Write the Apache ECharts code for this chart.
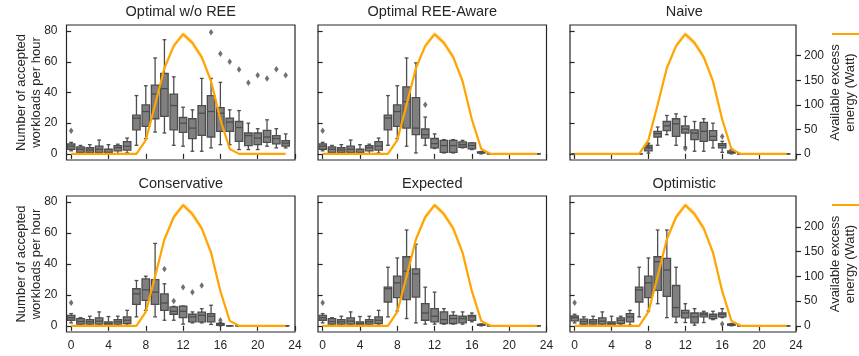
<!DOCTYPE html>
<html><head><meta charset="utf-8">
<script src="https://cdn.jsdelivr.net/npm/echarts@6/dist/echarts.min.js"></script>
<style>html,body{margin:0;padding:0;background:#fff}#c{width:859px;height:356px}</style>
</head><body><div id="c"></div><script>
const hours = [0,1,2,3,4,5,6,7,8,9,10,11,12,13,14,15,16,17,18,19,20,21,22,23];
const xTicks = [0,4,8,12,16,20,24];
const leftTicks = [0,20,40,60,80];
const rightTicks = [0,50,100,150,200];
const titles = ['Optimal w/o REE','Optimal REE-Aware','Naive','Conservative','Expected','Optimistic'];

// available excess energy (W), mean and confidence band
const solar   = [0,0,0,0,0,0,0,0,28,100,175,220,244,226,197,148,70,10,0,0,0,0,0,0];
const solarLo = [0,0,0,0,0,0,0,0,26,96,170,214,238,219,190,141,65,8,0,0,0,0,0,0];
const solarHi = [0,0,0,0,0,0,0,0,30,104,180,226,250,233,204,155,75,12,0,0,0,0,0,0];

// box stats per hour: [whiskerLow, Q1, median, Q3, whiskerHigh]
const optimalWoRee = [
 [2,3,5,6.5,7.5],[0.5,1,3,4.5,5.5],[0,1,2.5,4,6],[0,1,3,5,9],[0,0.5,1,3,6],[0,2,4,5.4,6.3],
 [0.6,2.4,5,8,10.3],[5.6,15.7,23.3,25.2,38],[9.9,17.9,27.6,31.9,44.4],[14.2,22.9,39,44.8,62.5],
 [13.6,24.4,42.5,52.4,74.4],[5.6,15.7,31.5,39,50.2],[5,14,20,23.7,30.4],[1.7,9.9,16.8,22.9,28.7],
 [1.7,12,26.5,31.5,49.2],[3.9,11,27.6,38,49.2],[6,14.7,26.5,30.2,46.6],[6,14.7,20.7,23.3,28.7],
 [2.8,8.2,17.2,21.1,28.2],[2.8,5.4,11.9,13.6,20],[2.8,6,10.3,13.6,16.4],[5,7.5,11,15.3,22.2],
 [3.9,6.5,10,11.9,16.4],[3.9,5,7,8.6,13]];
const optimalWoReeOut = [[0,15],[15,79.3],[16,65.3],[17,60],[18,55],[19,46.4],[20,51.3],[21,49.2],[22,55.2],[23,51.3]];

const optimalReeAware = [
 [2,3,5,6.5,7.5],[0.5,1,3,4.5,5.5],[0,1,2.5,4,6],[0,1,3,5,9],[0,0.5,1,3,6],[0,2,4,5.4,6.3],
 [0.6,2.4,5,8,10.3],[5.6,15.7,23.3,25.2,38],[9.9,17.9,27.6,31.9,44.4],[5,16.8,34,43.7,62.5],
 [0.6,12.5,16.8,36.7,59.3],[5.6,10.3,12.5,16.2,24],[3.5,3.9,6.7,10,13],[0.6,1,5.4,8.8,9.3],
 [0.6,1,5.4,8.8,9.3],[3.9,4.3,6,7.8,8.8],[2.8,3.2,5.4,7.1,7.1],[0,0.5,1,1.3,1.5],
 [0,0,0,0,0],[0,0,0,0,0],[0,0,0,0,0],[0,0,0,0,0],[0,0,0,0,0],[0,0,0,0,0]];
const optimalReeAwareOut = [[0,15],[11,32]];

const naive = [
 [0,0,0,0,0],[0,0,0,0,0],[0,0,0,0,0],[0,0,0,0,0],[0,0,0,0,0],[0,0,0,0,0],[0,0,0,0,0],[0,0,0,0,0],
 [0.5,2,4,5.5,7],[5.6,11,13.2,14.7,17.5],[12.5,15.1,18.3,21.1,25],[5.6,11.4,19.6,22.9,26.1],
 [4.5,13.6,16.2,18.3,24.4],[1.7,9.3,13.6,15.7,21.1],[1.7,8.2,14.7,20.5,22.9],[3.9,8.8,11.4,15.1,20],
 [1,3.9,5.6,6.7,8.2],[0,0.5,1,2,3],
 [0,0,0,0,0],[0,0,0,0,0],[0,0,0,0,0],[0,0,0,0,0],[0,0,0,0,0],[0,0,0,0,0]];
const naiveOut = [[8,5],[12,3.5],[16,11.4]];

const conservative = [
 [1.9,3.6,5.3,6.8,7.9],[0.9,1.1,2.8,4.7,5.3],[0.5,1.1,2.6,4,6.2],[0.5,1.1,3,5.1,9],[0.3,0.5,1.5,2.6,6],
 [0.5,1.1,2.6,4,6.2],[0.4,1.5,3.6,5.8,10],[5.8,13.9,20.7,24,29.3],[10,16.5,23.3,30.4,32.1],
 [5.8,13.9,21.8,29.9,53.3],[3.6,10,14.8,20.7,27.2],[3.6,7.5,9.4,12.2,12.6],[1.1,5.3,9.4,12.8,12.8],
 [1.9,2.6,5.8,7.5,9],[1.9,2.6,6.8,8.8,11.1],[0.9,2.6,6.2,7.9,13.3],[0,0.3,1,1.5,2],
 [0,0,0,0,0],[0,0,0,0,0],[0,0,0,0,0],[0,0,0,0,0],[0,0,0,0,0],[0,0,0,0,0],[0,0,0,0,0]];
const conservativeOut = [[0,15],[10,36.8],[11,16],[12,25],[13,21.8],[14,26.1],[16,3.6]];

const expected = [
 [1.9,3.6,5.3,6.8,7.9],[0.9,1.1,2.8,4.7,5.3],[0.5,1.1,2.6,4,6.2],[0.5,1.1,3,5.1,9],[0.3,0.5,1.5,2.6,6],
 [0.5,1.1,2.6,4,6.2],[0.4,1.5,3.6,5.8,10],[5.8,15.4,24,25,37.9],[9.6,18.2,27.8,32.1,43.9],
 [4.7,16.9,35.3,44.7,62],[1.9,18.6,33.6,36.8,52.8],[1.1,3.6,8.3,14.3,25],[1.1,2.6,6.2,11.1,21.8],
 [1.1,1.5,4,9,11.1],[1.1,1.5,4.7,6.8,9],[1.1,1.9,4.7,6.2,9],[2.6,3.6,5.8,6.8,8.3],[0,0.3,0.8,1,1.2],
 [0,0,0,0,0],[0,0,0,0,0],[0,0,0,0,0],[0,0,0,0,0],[0,0,0,0,0],[0,0,0,0,0]];
const expectedOut = [[0,15]];

const optimistic = [
 [1.9,3.2,5.3,6.4,7.5],[0.9,1.1,2.8,4.3,5.8],[0.5,1.1,2.6,4,6.2],[0.5,1.1,3,5.1,9],[0.3,0.5,1.5,2.6,6.2],
 [0.5,1.5,3.6,5.1,6.2],[0.4,2.6,5.8,7.9,10],[5.8,15.4,23.3,25,37.9],[9.6,18.2,27.8,32.1,43.9],
 [14.3,22.9,41.5,44.7,62],[5.3,19,36.1,43.6,62],[2.1,5.8,11.8,26.1,37.9],[2.1,5.1,8.3,10,14.3],
 [0.4,1.9,5.8,8.3,11.1],[2.1,5.8,7.3,8.3,9.4],[4,4.7,6.2,7.5,9.4],[5.3,5.8,7.5,8.3,11.1],[0,0.3,0.8,1.2,1.5],
 [0,0,0,0,0],[0,0,0,0,0],[0,0,0,0,0],[0,0,0,0,0],[0,0,0,0,0],[0,0,0,0,0]];
const optimisticOut = [[0,15],[16,1.1]];

const panels = [
  [optimalWoRee, optimalWoReeOut], [optimalReeAware, optimalReeAwareOut], [naive, naiveOut],
  [conservative, conservativeOut], [expected, expectedOut], [optimistic, optimisticOut]
];

const FONT = 'Liberation Sans, Arial, sans-serif';
const TXT = '#262626';
const EDGE = '#4d4d4d';
const lefts = [66.5, 318, 570];
const W = 228.5;
const tops = [25, 196];
const Hs = [135, 136];

function renderBox(params, api) {
  const x = api.value(0);
  const c = [1,2,3,4,5].map(i => api.coord([x, api.value(i)]));
  const cx = c[0][0];
  const w = api.size([0.8, 0])[0];
  const cap = w * 0.5;
  const st = {stroke: EDGE, lineWidth: 1.3};
  return {type: 'group', children: [
    {type:'line', shape:{x1:cx,y1:c[0][1],x2:cx,y2:c[1][1]}, style:st},
    {type:'line', shape:{x1:cx,y1:c[3][1],x2:cx,y2:c[4][1]}, style:st},
    {type:'line', shape:{x1:cx-cap/2,y1:c[0][1],x2:cx+cap/2,y2:c[0][1]}, style:st},
    {type:'line', shape:{x1:cx-cap/2,y1:c[4][1],x2:cx+cap/2,y2:c[4][1]}, style:st},
    {type:'rect', shape:{x:cx-w/2,y:c[3][1],width:w,height:c[1][1]-c[3][1]}, style:{fill:'#808080', stroke:EDGE, lineWidth:1.3}},
    {type:'line', shape:{x1:cx-w/2,y1:c[2][1],x2:cx+w/2,y2:c[2][1]}, style:st}
  ]};
}
function renderBand(params, api) {
  const pts = [];
  hours.forEach((h,i) => pts.push(api.coord([h, solarHi[i]])));
  for (let i = hours.length-1; i >= 0; i--) pts.push(api.coord([hours[i], solarLo[i]]));
  return {type:'polygon', shape:{points:pts}, style:{fill:'rgba(255,165,0,0.22)'}};
}

const grid = [], xAxis = [], yAxis = [], series = [], graphic = [];
for (let p = 0; p < 6; p++) {
  const row = Math.floor(p/3), col = p % 3;
  grid.push({left: lefts[col], top: tops[row], width: W, height: Hs[row], show: true,
    borderColor: TXT, borderWidth: 1.2, backgroundColor: 'transparent'});
  xAxis.push({type:'value', gridIndex:p, min:-0.5, max:24,
    axisLine:{show:false}, splitLine:{show:false},
    axisTick:{show:true, length:5, customValues:xTicks, lineStyle:{color:TXT, width:1.2}},
    axisLabel:{show: row===1, customValues:xTicks, color:TXT, fontSize:12, fontFamily:FONT, margin:8}});
  yAxis.push({type:'value', gridIndex:p, position:'left', min:-4, max:84,
    axisLine:{show:false}, splitLine:{show:false},
    axisTick:{show:true, length:5, customValues:leftTicks, lineStyle:{color:TXT, width:1.2}},
    axisLabel:{show: col===0, customValues:leftTicks, color:TXT, fontSize:12, fontFamily:FONT, margin:9},
    name: col===0 ? 'Number of accepted\nworkloads per hour' : '',
    nameLocation:'middle', nameRotate:90, nameGap:23, nameMoveOverlap:false,
    nameTextStyle:{color:TXT, fontSize:13, fontFamily:FONT, lineHeight:15}});
  yAxis.push({type:'value', gridIndex:p, position:'right', min:-12.5, max:262.5, show: col===2,
    axisLine:{show:false}, splitLine:{show:false},
    axisTick:{show:true, length:5, customValues:rightTicks, lineStyle:{color:TXT, width:1.2}},
    axisLabel:{show:true, customValues:rightTicks, color:TXT, fontSize:12, fontFamily:FONT, margin:8},
    name: col===2 ? 'Available excess\nenergy (Watt)' : '',
    nameLocation:'middle', nameRotate:90, nameGap:32, nameMoveOverlap:false,
    nameTextStyle:{color:TXT, fontSize:13, fontFamily:FONT, lineHeight:15}});
  const [box, out] = panels[p];
  series.push({type:'custom', xAxisIndex:p, yAxisIndex:2*p, renderItem:renderBox, z:2,
    encode:{x:0, y:[1,2,3,4,5]}, data: hours.map((h,i) => [h].concat(box[i]))});
  series.push({type:'scatter', xAxisIndex:p, yAxisIndex:2*p, symbol:'diamond', symbolSize:[4.5,6.5],
    itemStyle:{color:EDGE}, z:2, data: out});
  series.push({type:'custom', xAxisIndex:p, yAxisIndex:2*p+1, renderItem:renderBand, z:3,
    data:[[0,0]], silent:true});
  series.push({type:'line', name:'Available excess energy', xAxisIndex:p, yAxisIndex:2*p+1, z:4,
    symbol:'none', lineStyle:{color:'#FFA500', width:2.2}, itemStyle:{color:'#FFA500'},
    data: hours.map((h,i) => [h, solar[i]])});
  graphic.push({type:'text', x: lefts[col] + W/2, y: row===0 ? 12 : 184,
    style:{text: titles[p], textAlign:'center', textVerticalAlign:'middle', font:'14.5px ' + FONT, fill:TXT}});
}

const chart = echarts.init(document.getElementById('c'), null, {renderer:'canvas'});
chart.setOption({
  animation:false,
  grid, xAxis, yAxis, series, graphic,
  legend:[
    {data:['Available excess energy'], left:832, top:28, icon:'rect', itemWidth:28, itemHeight:2, padding:0,
     textStyle:{fontSize:12, fontFamily:FONT, color:TXT}},
    {data:['Available excess energy'], left:832, top:199, icon:'rect', itemWidth:28, itemHeight:2, padding:0,
     textStyle:{fontSize:12, fontFamily:FONT, color:TXT}}
  ]
});
</script></body></html>
